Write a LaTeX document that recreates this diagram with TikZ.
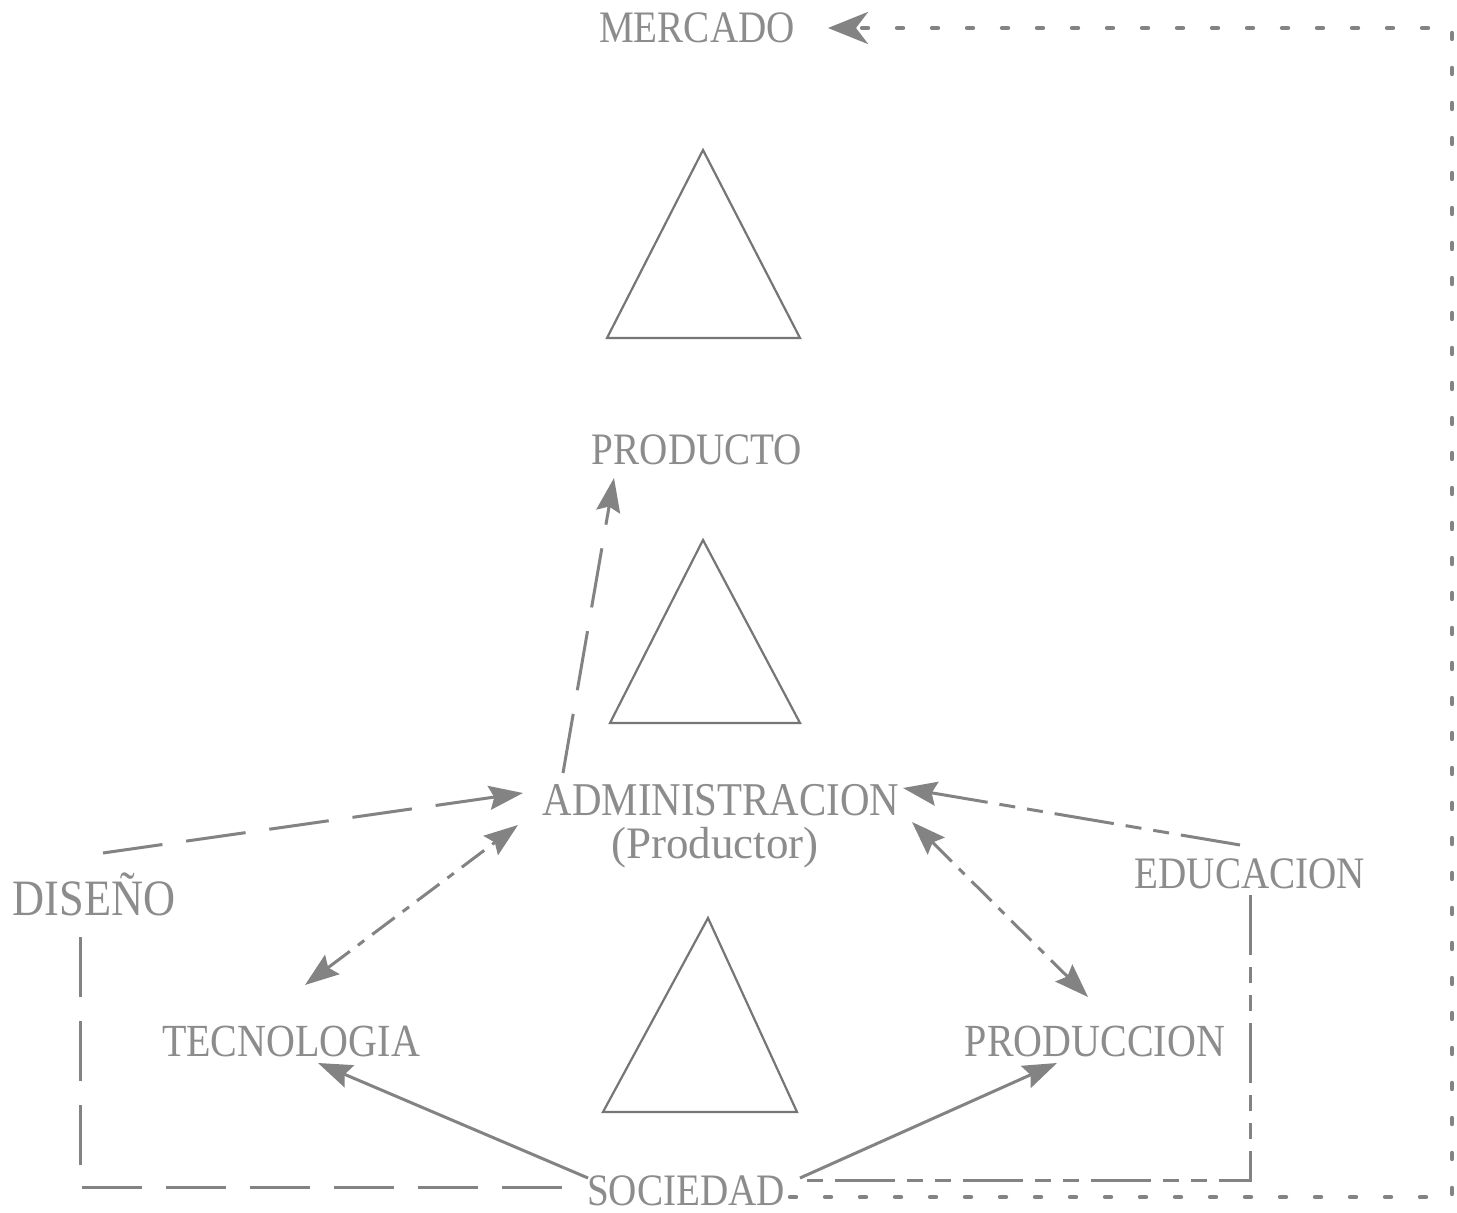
\documentclass[tikz,border=0pt]{standalone}
\usepackage{fontspec}
\setmainfont{Liberation Serif}
\newfontfamily\lbl[FakeStretch=0.87]{Liberation Serif}
\usetikzlibrary{arrows.meta}
\definecolor{txt}{HTML}{8C8C8C}
\definecolor{ln}{HTML}{838383}
\definecolor{tri}{HTML}{767676}
\begin{document}
\begin{tikzpicture}[x=0.5pt,y=-0.5pt,
  lab/.style={inner sep=0pt, anchor=base, text=txt, font=\lbl\fontsize{22.5}{26}\selectfont},
  tip/.style={-{Stealth[length=17pt,width=12pt,inset=2.5pt]}},
  dtip/.style={{Stealth[length=17pt,width=12pt,inset=2.5pt]}-{Stealth[length=17pt,width=12pt,inset=2.5pt]}},
  conn/.style={draw=ln, line width=1.5pt},
  longdash/.style={dash pattern=on 30pt off 12pt},
  dashdot/.style={dash pattern=on 14pt off 5pt on 4pt off 5pt},
  edudash/.style={dash pattern=on 30pt off 6pt on 8pt off 6pt on 8pt off 6pt},
  dotline/.style={draw=ln, line width=2.2pt, line cap=round, dash pattern=on 3pt off 14.5pt},
  triangle/.style={draw=tri, line width=1.1pt, line join=miter}]
\useasboundingbox (0,0) rectangle (1457,1213);
\fill[white] (0,0) rectangle (1457,1213);

% triangles
\draw[triangle] (703,150) -- (800,338) -- (607,338) -- cycle;
\draw[triangle] (703,540) -- (800,723) -- (610,723) -- cycle;
\draw[triangle] (708,918) -- (797,1112) -- (603,1112) -- cycle;

% labels
\node[lab] (mercado) at (697,43) {MERCADO};
\node[lab] (producto) at (697,465) {PRODUCTO};
\node[lab, font=\lbl\fontsize{23.5}{27}\selectfont] (admin) at (721,815) {ADMINISTRACION};
\node[lab, font=\fontsize{22.5}{26}\selectfont] (productor) at (715,858) {(Productor)};
\node[lab, font=\lbl\fontsize{25.5}{29}\selectfont] (diseno) at (94,915) {DISEÑO};
\node[lab] (educacion) at (1250,888) {EDUCACION};
\node[lab, font=\lbl\fontsize{23}{27}\selectfont] (tecnologia) at (291,1056) {TECNOLOGIA};
\node[lab, font=\lbl\fontsize{23}{27}\selectfont] (produccion) at (1095,1056) {PRODUCCION};
\node[lab] (sociedad) at (686,1205) {SOCIEDAD};

% connector end points
\coordinate (mercTip) at (828,28);
\coordinate (cNE) at (1452,28);
\coordinate (cSE) at (1452,1197);
\coordinate (socR) at (790,1197);
\coordinate (admUp) at (563,773);
\coordinate (prodTip) at (614,478);
\coordinate (disTop) at (103,853);
\coordinate (admL) at (523,793);
\coordinate (disV) at (80,937);
\coordinate (disC) at (80,1187);
\coordinate (socL) at (575,1187);
\coordinate (tecA) at (305,985);
\coordinate (admLL) at (518,825);
\coordinate (admR) at (912,822);
\coordinate (prcA) at (1088,997);
\coordinate (eduL) at (1240,845);
\coordinate (admRT) at (903,788);
\coordinate (eduV) at (1250,895);
\coordinate (eduC) at (1250,1180);
\coordinate (socR2) at (805,1180);
\coordinate (socTL) at (588,1178);
\coordinate (tecTip) at (318,1063);
\coordinate (socTR) at (800,1178);
\coordinate (prcTip) at (1057,1063);

% dotted market loop
\draw[dotline, -{Stealth[length=20pt,width=16pt,inset=6pt]}] (socR) -- (cSE) -- (cNE) -- (mercTip);

% long dashed
\draw[conn, longdash, tip] (admUp) -- (prodTip);
\draw[conn, longdash, tip] (disTop) -- (admL);
\draw[conn, longdash] (disV) -- (disC) -- (socL);

% dash-dot double arrows
\draw[conn, dashdot, dtip] (tecA) -- (admLL);
\draw[conn, dashdot, dtip] (admR) -- (prcA);

% educacion
\draw[conn, edudash, tip] (eduL) -- (admRT);
\draw[conn, edudash] (eduV) -- (eduC) -- (socR2);

% solid from sociedad
\draw[conn, tip] (socTL) -- (tecTip);
\draw[conn, tip] (socTR) -- (prcTip);
\end{tikzpicture}
\end{document}
